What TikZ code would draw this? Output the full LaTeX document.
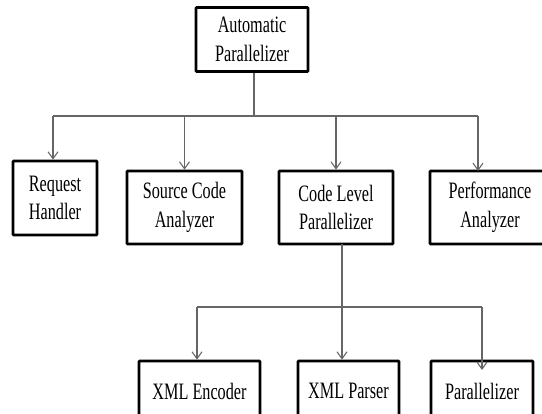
\documentclass[tikz,border=0pt]{standalone}
\usepackage{fontspec}
\setmainfont{Liberation Serif}[FakeStretch=0.69]
\usetikzlibrary{arrows.meta}
\begin{document}
\begin{tikzpicture}[x=1pt,y=-1pt,
  box/.style={draw=black,line width=2.6pt,rounded corners=0.8pt,inner sep=0pt,align=center,
    font=\fontsize{23.5}{28.5}\selectfont},
  conn/.style={draw=black!60,line width=1.2pt},
  arr/.style={conn,-{Straight Barb[length=7pt,width=10pt,line width=1.1pt]}}]
\useasboundingbox (0,0) rectangle (542,414);
\clip (0,0) rectangle (542,414);
% nodes
\node[box,minimum width=112pt,minimum height=64pt] (AP) at (252,39.5) {Automatic\\Parallelizer};
\node[box,minimum width=84pt,minimum height=74pt] (RH) at (55,198) {Request\\Handler};
\node[box,minimum width=115pt,minimum height=73pt] (SCA) at (184.5,207.5) {Source Code\\Analyzer};
\node[box,minimum width=114pt,minimum height=73pt] (CLP) at (336,207.5) {Code Level\\Parallelizer};
\node[box,minimum width=120pt,minimum height=73pt] (PA) at (490,207.5) {Performance\\Analyzer};
\node[box,minimum width=121pt,minimum height=60pt] (XE) at (199.5,391) {XML Encoder};
\node[box,minimum width=101pt,minimum height=60pt] (XP) at (348.5,391) {XML Parser};
\node[box,minimum width=102pt,minimum height=60pt] (PZ) at (482,391) {Parallelizer};
% junction coordinates
\coordinate (j1) at (254,116);
\coordinate (hl) at (53,116);
\coordinate (hr) at (478,116);
\coordinate (pain) at (478,171);
\coordinate (cout) at (342,244);
\coordinate (j2) at (342,307);
\coordinate (gl) at (197,307);
\coordinate (gr) at (482,307);
\coordinate (pzin) at (482,370);
% connectors
\draw[conn] (AP.south -| j1) -- (j1);
\draw[conn] (hl) -- (hr);
\draw[arr] (hl) -- (hl |- RH.north);
\draw[arr] (SCA.north |- j1) -- (SCA.north);
\draw[arr] (CLP.north |- j1) -- (CLP.north);
\draw[arr] (hr) -- (pain);
\draw[conn] (cout) -- (j2);
\draw[conn] (gl) -- (gr);
\draw[arr] (gl) -- (gl |- XE.north);
\draw[arr] (j2) -- (j2 |- XP.north);
\draw[arr] (gr) -- (pzin);
\end{tikzpicture}
\end{document}
